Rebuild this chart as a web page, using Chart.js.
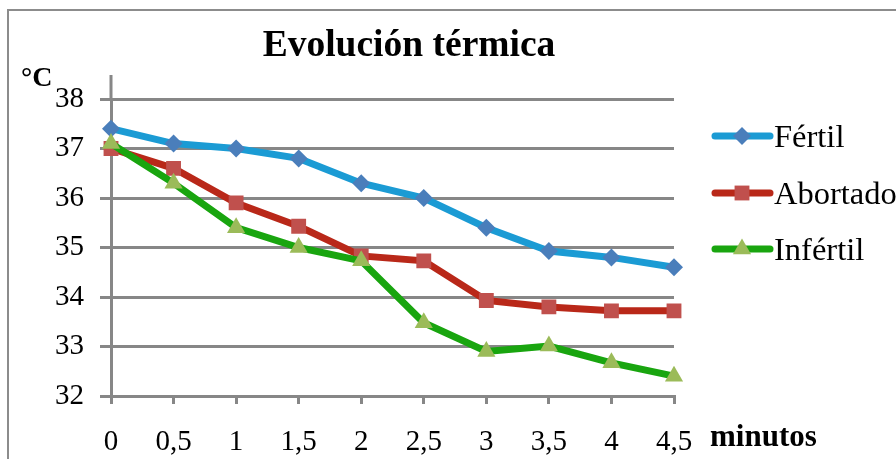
<!DOCTYPE html>
<html>
<head>
<meta charset="utf-8">
<script src="https://cdn.jsdelivr.net/npm/chart.js@4/dist/chart.umd.min.js"></script>
<style>
  html, body { margin: 0; padding: 0; background: #fff; }
  #wrap { width: 896px; height: 459px; }
</style>
</head>
<body>
<div id="wrap"><canvas id="chart" width="896" height="459"></canvas></div>
<script>
// data
const minutos = ['0', '0,5', '1', '1,5', '2', '2,5', '3', '3,5', '4', '4,5'];
const fertil = [37.4, 37.1, 37.0, 36.8, 36.3, 36.0, 35.4, 34.93, 34.8, 34.6];
const abortado = [37.0, 36.6, 35.9, 35.43, 34.83, 34.73, 33.93, 33.8, 33.72, 33.72];
const infertil = [37.1, 36.3, 35.4, 35.0, 34.73, 33.48, 32.9, 33.01, 32.67, 32.4];
const seriesNames = ['Fértil', 'Abortado', 'Infértil'];

const FONT = '"Liberation Serif", "Times New Roman", serif';
const GRID = '#878787';

const series = [
  { name: seriesNames[0], data: fertil, line: '#1b9bd4', mark: '#4a7ebb', shape: 'rectRot', r: 9, order: 3 },
  { name: seriesNames[1], data: abortado, line: '#b92819', mark: '#c0504d', shape: 'rect', r: 10.5, order: 2 },
  { name: seriesNames[2], data: infertil, line: '#19a50f', mark: '#9bbb59', shape: 'triangle', r: 10.5, order: 1 }
];

const datasets = series.map(s => ({
  label: s.name,
  data: s.data,
  borderColor: s.line,
  backgroundColor: s.mark,
  borderWidth: 7,
  pointStyle: s.shape,
  pointRadius: s.r,
  pointBackgroundColor: s.mark,
  pointBorderColor: s.mark,
  pointBorderWidth: 0,
  tension: 0,
  order: s.order
}));

// title, axis captions, legend and outer frame
const extras = {
  id: 'extras',
  afterDraw(chart) {
    const ctx = chart.ctx;
    const area = chart.chartArea;
    ctx.save();

    ctx.strokeStyle = '#8c8c8c';
    ctx.lineWidth = 2;
    ctx.strokeRect(8, 10, 1000, 1000);

    // y axis runs a little above the top gridline
    ctx.strokeStyle = GRID;
    ctx.lineWidth = 3;
    ctx.beginPath();
    ctx.moveTo(area.left, 75);
    ctx.lineTo(area.left, area.top);
    ctx.stroke();

    ctx.fillStyle = '#000';
    ctx.textBaseline = 'alphabetic';
    ctx.textAlign = 'center';
    ctx.font = 'bold 37.5px ' + FONT;
    ctx.fillText('Evolución térmica', 409, 56);

    ctx.textAlign = 'left';
    ctx.font = 'bold 28px ' + FONT;
    ctx.fillText('°C', 21, 86);

    ctx.font = 'bold 31px ' + FONT;
    ctx.fillText('minutos', 710, 446);

    // legend
    const ys = [136, 193, 249];
    ctx.font = '32.5px ' + FONT;
    series.forEach((s, i) => {
      const y = ys[i];
      ctx.strokeStyle = s.line;
      ctx.lineWidth = 7;
      ctx.lineCap = 'round';
      ctx.beginPath();
      ctx.moveTo(715, y);
      ctx.lineTo(770, y);
      ctx.stroke();
      ctx.fillStyle = s.mark;
      Chart.helpers.drawPoint(ctx, { pointStyle: s.shape, radius: s.r, borderWidth: 0 }, 742, y);
      ctx.fillStyle = '#000';
      ctx.textBaseline = 'middle';
      ctx.fillText(s.name, 774, y + 2);
    });

    ctx.restore();
  }
};

new Chart(document.getElementById('chart'), {
  type: 'line',
  data: { labels: minutos, datasets: datasets },
  options: {
    responsive: false,
    animation: false,
    layout: { padding: { left: 0, right: 222, top: 99, bottom: 0 } },
    plugins: {
      legend: { display: false },
      title: { display: false },
      tooltip: { enabled: false }
    },
    scales: {
      x: {
        offset: false,
        grid: { drawOnChartArea: false, drawTicks: true, tickLength: 8, color: GRID, lineWidth: 3 },
        border: { display: true, color: GRID, width: 3 },
        ticks: { color: '#000', font: { family: FONT, size: 29 }, padding: 21, maxRotation: 0, autoSkip: false },
        afterFit(scale) { scale.height = 63; }
      },
      y: {
        min: 32,
        max: 38,
        ticks: { stepSize: 1, color: '#000', font: { family: FONT, size: 29 }, padding: 16 },
        grid: { color: GRID, lineWidth: 3, tickLength: 11, drawTicks: true },
        border: { display: true, color: GRID, width: 3 },
        afterFit(scale) { scale.width = 111; }
      }
    }
  },
  plugins: [extras]
});
</script>
</body>
</html>
